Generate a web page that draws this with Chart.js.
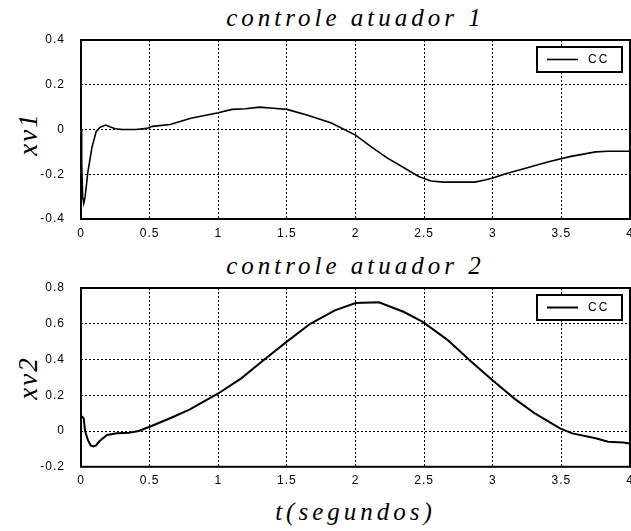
<!DOCTYPE html>
<html>
<head>
<meta charset="utf-8">
<script src="https://cdn.jsdelivr.net/npm/chart.js@4/dist/chart.umd.min.js"></script>
<style>
    body { margin: 0; background: #fff; }
    #page { position: relative; width: 631px; height: 531px; background: #fff; overflow: hidden; }
    .box { position: absolute; left: 0; width: 631px; }
    .title { position: absolute; left: 81px; width: 549px; text-align: center;
             font-family: "Liberation Serif", serif; font-style: italic; font-size: 25px;
             letter-spacing: 4px; line-height: 30px; color: #000; }
    .ylab { position: absolute; width: 100px; height: 30px; line-height: 30px; text-align: center;
            font-family: "Liberation Serif", serif; font-style: italic; font-size: 27px;
            letter-spacing: 2px; color: #000; transform: rotate(-90deg); }
</style>
</head>
<body>
<div id="page">
    <div class="title" style="top:3px;">controle atuador 1</div>
    <div class="title" style="top:251px;">controle atuador 2</div>
    <div class="title" style="top:497px;">t(segundos)</div>
    <div class="ylab" style="left:-22px; top:119px;">xv1</div>
    <div class="ylab" style="left:-22px; top:363px;">xv2</div>
    <div class="box" style="top:0; height:245px;"><canvas id="chart1" width="631" height="245"></canvas></div>
    <div class="box" style="top:250px; height:240px;"><canvas id="chart2" width="631" height="240"></canvas></div>
</div>
<script>
// top plot: xv1 against time
const time1 = [0, 0.005, 0.012, 0.02, 0.03, 0.05, 0.08, 0.11, 0.14, 0.18, 0.21, 0.25, 0.30, 0.40, 0.48,
    0.52, 0.65, 0.80, 1.0, 1.1, 1.2, 1.3, 1.4, 1.5, 1.64, 1.82, 2.0, 2.11, 2.23, 2.35, 2.46, 2.55,
    2.64, 2.75, 2.87, 2.95, 3.0, 3.1, 3.2, 3.4, 3.57, 3.75, 3.84, 4.0];
const xv1 = [0, -0.15, -0.30, -0.33, -0.30, -0.19, -0.08, -0.01, 0.01, 0.02, 0.012, 0.003, 0.0, 0.0, 0.005,
    0.014, 0.022, 0.05, 0.075, 0.09, 0.093, 0.10, 0.095, 0.09, 0.066, 0.03, -0.025, -0.075, -0.127, -0.17, -0.21, -0.23,
    -0.235, -0.235, -0.235, -0.225, -0.217, -0.197, -0.18, -0.145, -0.12, -0.10, -0.097, -0.097];

// bottom plot: xv2 against time
const time2 = [0, 0.01, 0.02, 0.03, 0.05, 0.07, 0.09, 0.11, 0.13, 0.16, 0.19, 0.26, 0.35, 0.42, 0.5,
    0.645, 0.79, 1.0, 1.17, 1.32, 1.5, 1.67, 1.85, 2.0, 2.17, 2.35, 2.49, 2.67, 2.84, 2.99, 3.16,
    3.31, 3.49, 3.58, 3.75, 3.84, 3.95, 4.0];
const xv2 = [0.08, 0.08, 0.07, 0.0, -0.05, -0.08, -0.086, -0.08, -0.06, -0.04, -0.022, -0.013, -0.01, 0.0, 0.024,
    0.07, 0.12, 0.21, 0.296, 0.39, 0.50, 0.60, 0.675, 0.716, 0.72, 0.667, 0.61, 0.51, 0.39, 0.29, 0.18,
    0.097, 0.015, -0.013, -0.04, -0.06, -0.064, -0.07];

const xTicks = { min: 0, max: 4, step: 0.5 };
const y1Ticks = { min: -0.4, max: 0.4, step: 0.2 };
const y2Ticks = { min: -0.2, max: 0.8, step: 0.2 };
const legendLabel = 'CC';

// plain matlab style labels: 1 not 1.0
function tickText(v) {
    return String(Math.round(v * 10) / 10);
}

// frame round the plot area plus the small legend box in the corner
const frameAndLegend = {
    id: 'frameAndLegend',
    beforeDraw(chart) {
        chart.ctx.letterSpacing = '1px';
    },
    afterDatasetsDraw(chart) {
        const ctx = chart.ctx;
        const a = chart.chartArea;
        const ds = chart.data.datasets[0];
        ctx.save();
        ctx.strokeStyle = '#000';
        ctx.lineWidth = 2;
        ctx.strokeRect(a.left, a.top, a.right - a.left, a.bottom - a.top);

        const bx = a.right - 93, by = a.top + 7, bw = 85, bh = 25;
        ctx.fillStyle = '#fff';
        ctx.fillRect(bx, by, bw, bh);
        ctx.strokeRect(bx, by, bw, bh);
        ctx.lineWidth = ds.borderWidth;
        ctx.beginPath();
        ctx.moveTo(bx + 10, by + bh / 2);
        ctx.lineTo(bx + 41, by + bh / 2);
        ctx.stroke();
        ctx.fillStyle = '#000';
        ctx.font = '12px "Liberation Sans"';
        ctx.letterSpacing = '2px';
        ctx.textBaseline = 'middle';
        ctx.fillText(ds.label, bx + 51, by + bh / 2);
        ctx.restore();
    }
};

function makeChart(id, times, values, yRange, lineWidth, topPad, xHeight) {
    const tickFont = { family: '"Liberation Sans", Arial, sans-serif', size: 12 };
    return new Chart(document.getElementById(id), {
        type: 'line',
        data: {
            datasets: [{
                label: legendLabel,
                data: times.map((t, i) => ({ x: t, y: values[i] })),
                borderColor: '#000',
                borderWidth: lineWidth,
                pointRadius: 0,
                tension: 0,
                fill: false
            }]
        },
        options: {
            responsive: false,
            animation: false,
            devicePixelRatio: 1,
            layout: { padding: { top: topPad, right: 1, left: 0, bottom: 0 } },
            plugins: { legend: { display: false }, tooltip: { enabled: false } },
            scales: {
                x: {
                    type: 'linear',
                    min: xTicks.min,
                    max: xTicks.max,
                    ticks: { stepSize: xTicks.step, padding: 7, color: '#000', font: tickFont,
                             maxRotation: 0, autoSkip: false, callback: tickText },
                    grid: { color: '#000', lineWidth: 1, drawTicks: false },
                    border: { display: false, dash: [2, 2] },
                    afterFit(s) { s.height = xHeight; s.paddingLeft = 0; s.paddingRight = 0; }
                },
                y: {
                    min: yRange.min,
                    max: yRange.max,
                    ticks: { stepSize: yRange.step, padding: 16, color: '#000', font: tickFont, callback: tickText },
                    grid: { color: '#000', lineWidth: 1, drawTicks: false },
                    border: { display: false, dash: [2, 2] },
                    afterFit(s) { s.width = 81; }
                }
            }
        },
        plugins: [frameAndLegend]
    });
}

makeChart('chart1', time1, xv1, y1Ticks, 1.6, 40, 26);
makeChart('chart2', time2, xv2, y2Ticks, 2, 38, 23);
</script>
</body>
</html>
